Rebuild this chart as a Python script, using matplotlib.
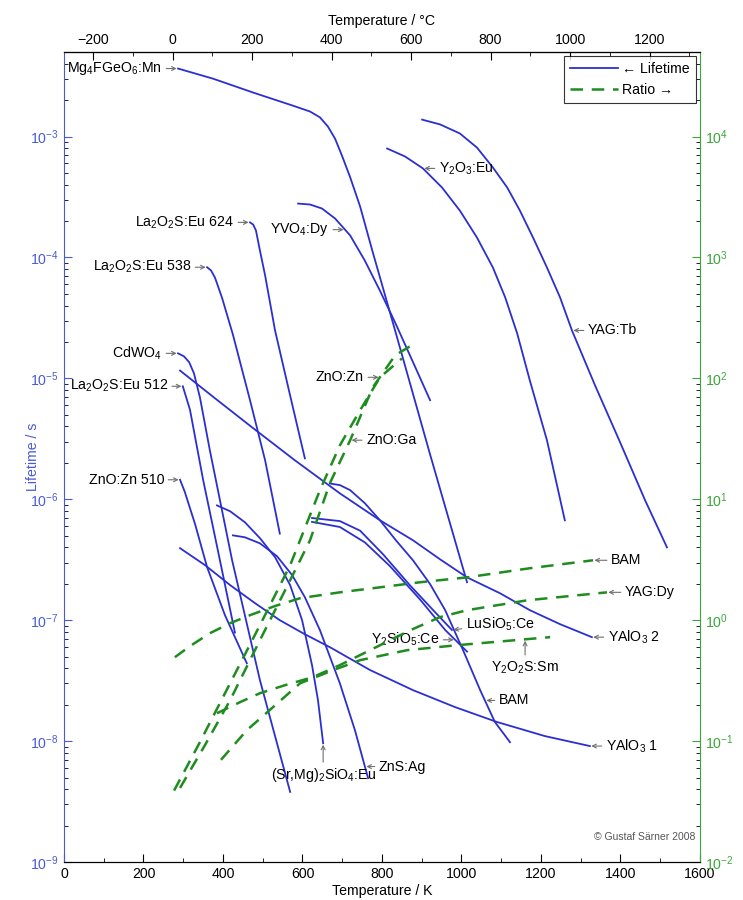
import numpy as np
import matplotlib.pyplot as plt
from matplotlib import font_manager
from matplotlib.lines import Line2D
from matplotlib.ticker import LogLocator, MultipleLocator, NullFormatter, FixedLocator

# condensed sans if available
names = {f.name for f in font_manager.fontManager.ttflist}
base_font = 'Liberation Sans Narrow' if 'Liberation Sans Narrow' in names else 'Liberation Sans'
plt.rcParams['font.family'] = [base_font, 'DejaVu Sans']
plt.rcParams['mathtext.fontset'] = 'custom'
plt.rcParams['mathtext.rm'] = base_font
plt.rcParams['mathtext.it'] = base_font

BLUE = '#2b2fd0'
AXBLUE = '#4a5ad6'
GREEN = '#1e8c1e'
AXGREEN = '#3aa63a'
FS = 10.2

# ---- decay lifetime (s) vs temperature (K) ----
mg_T = [287, 375, 476, 576, 619, 644, 664, 682, 699, 720, 745, 775, 833, 921, 1014]
mg_tau = [3.65e-3, 3.01e-3, 2.31e-3, 1.80e-3, 1.61e-3, 1.44e-3, 1.21e-3, 9.6e-4, 7.0e-4,
          4.6e-4, 2.64e-4, 1.16e-4, 2.49e-5, 2.35e-6, 2.06e-7]

yvo_T = [589, 619, 649, 682, 720, 757, 795, 833, 876, 921]
yvo_tau = [2.79e-4, 2.74e-4, 2.54e-4, 2.10e-4, 1.52e-4, 9.4e-5, 5.3e-5, 2.9e-5, 1.41e-5, 6.6e-6]

y2o3_T = [813, 858, 903, 951, 996, 1039, 1079, 1110, 1140, 1172, 1215, 1260]
y2o3_tau = [7.96e-4, 6.84e-4, 5.45e-4, 3.79e-4, 2.44e-4, 1.46e-4, 8.26e-5, 4.67e-5,
            2.36e-5, 9.6e-6, 3.08e-6, 6.7e-7]

yagtb_T = [901, 946, 996, 1039, 1079, 1115, 1147, 1180, 1215, 1248, 1278, 1336, 1399, 1462, 1517]
yagtb_tau = [1.38e-3, 1.26e-3, 1.06e-3, 8.1e-4, 5.55e-4, 3.79e-4, 2.44e-4, 1.46e-4, 8.26e-5,
             4.67e-5, 2.49e-5, 8.75e-6, 2.96e-6, 9.8e-7, 4.0e-7]

la624_T = [468, 476, 483, 493, 506, 531, 569, 606]
la624_tau = [1.95e-4, 1.87e-4, 1.67e-4, 1.14e-4, 7.1e-5, 2.49e-5, 7.2e-6, 2.18e-6]

la538_T = [360, 370, 380, 398, 425, 468, 506, 543]
la538_tau = [8.3e-5, 7.8e-5, 6.8e-5, 4.6e-5, 2.3e-5, 6.6e-6, 2.1e-6, 5.2e-7]

la512_T = [299, 317, 350, 387, 430]
la512_tau = [8.6e-6, 5.5e-6, 1.45e-6, 3.8e-7, 7.9e-8]

cdwo_T = [287, 302, 315, 327, 342, 367, 423, 493, 569]
cdwo_tau = [1.61e-5, 1.52e-5, 1.36e-5, 1.10e-5, 6.97e-6, 2.54e-6, 3.13e-7, 3.19e-8, 3.8e-9]

zno510_T = [292, 304, 330, 360, 405, 460]
zno510_tau = [1.45e-6, 1.15e-6, 6.2e-7, 2.75e-7, 1.1e-7, 4.4e-8]

srmg_T = [385, 418, 455, 493, 531, 569, 599, 624, 639, 652]
srmg_tau = [8.9e-7, 7.96e-7, 6.46e-7, 4.77e-7, 3.32e-7, 1.95e-7, 1.0e-7, 4.25e-8, 2.18e-8, 9.6e-9]

zns_T = [425, 455, 493, 536, 574, 606, 644, 694, 732, 765]
zns_tau = [5.03e-7, 4.85e-7, 4.32e-7, 3.38e-7, 2.36e-7, 1.55e-7, 8.26e-8, 3.01e-8, 1.23e-8, 4.94e-9]

yalo1_T = [292, 355, 418, 481, 543, 606, 669, 770, 878, 984, 1089, 1210, 1323]
yalo1_tau = [3.94e-7, 2.85e-7, 1.95e-7, 1.38e-7, 1.0e-7, 7.65e-8, 5.98e-8, 3.87e-8,
             2.64e-8, 1.91e-8, 1.44e-8, 1.10e-8, 9.1e-9]

yalo2_T = [292, 380, 473, 581, 694, 795, 878, 946, 1014, 1097, 1172, 1248, 1328]
yalo2_tau = [1.16e-5, 6.84e-6, 3.94e-6, 2.10e-6, 1.12e-6, 6.7e-7, 4.58e-7, 3.19e-7,
             2.26e-7, 1.67e-7, 1.21e-7, 9.27e-8, 7.24e-8]

bam_T = [669, 694, 720, 757, 795, 835, 878, 921, 959, 1004, 1047, 1084, 1122]
bam_tau = [1.35e-6, 1.31e-6, 1.19e-6, 9.27e-7, 6.7e-7, 4.58e-7, 3.13e-7, 1.99e-7,
           1.21e-7, 5.65e-8, 2.64e-8, 1.44e-8, 9.8e-9]

lso_T = [624, 694, 745, 803, 870, 933, 976]
lso_tau = [7.0e-7, 6.6e-7, 5.5e-7, 3.5e-7, 1.95e-7, 1.17e-7, 8.3e-8]

yso_T = [624, 694, 757, 820, 896, 959, 1014]
yso_tau = [6.5e-7, 5.9e-7, 4.4e-7, 2.8e-7, 1.48e-7, 8.3e-8, 5.5e-8]

# ---- intensity ratio vs temperature (K) ----
bamr_T = [279, 317, 367, 418, 468, 531, 594, 694, 795, 896, 1014, 1172, 1331]
bamr = [0.494, 0.61, 0.78, 0.944, 1.10, 1.31, 1.52, 1.70, 1.87, 2.06, 2.26, 2.69, 3.13]

yagdy_T = [385, 443, 493, 556, 626, 694, 770, 871, 946, 1014, 1165, 1366]
yagdy = [0.170, 0.210, 0.249, 0.290, 0.338, 0.425, 0.565, 0.826, 1.06, 1.21, 1.46, 1.70]

y2o2s_T = [395, 460, 526, 594, 677, 745, 863, 989, 1223]
y2o2s = [0.070, 0.123, 0.191, 0.301, 0.386, 0.467, 0.565, 0.621, 0.724]

znozn_T = [277, 342, 418, 493, 569, 644, 694, 745, 795, 850]
znozn = [0.039, 0.098, 0.301, 0.91, 2.85, 11.9, 27.9, 54.5, 102, 146]

znoga_T = [292, 355, 418, 493, 569, 619, 669, 720, 777, 833, 883]
znoga = [0.041, 0.093, 0.218, 0.684, 2.14, 4.58, 13.6, 30.8, 84.3, 155, 195]


def at(T, v, t):
    """value on a curve at temperature t (log interpolation)"""
    return 10 ** np.interp(t, T, np.log10(v))


fig = plt.figure(figsize=(7.43, 9.0), dpi=100)
ax = fig.add_axes([0.0861, 0.0422, 0.856, 0.9])
ax2 = ax.twinx()

lifetimes = [(mg_T, mg_tau), (yvo_T, yvo_tau), (y2o3_T, y2o3_tau), (yagtb_T, yagtb_tau),
             (la624_T, la624_tau), (la538_T, la538_tau), (la512_T, la512_tau),
             (cdwo_T, cdwo_tau), (zno510_T, zno510_tau), (srmg_T, srmg_tau),
             (zns_T, zns_tau), (yalo1_T, yalo1_tau), (yalo2_T, yalo2_tau),
             (bam_T, bam_tau), (lso_T, lso_tau), (yso_T, yso_tau)]
for T, tau in lifetimes:
    ax.plot(T, tau, color=BLUE, lw=1.3, solid_joinstyle='round')

ratios = [(bamr_T, bamr), (yagdy_T, yagdy), (y2o2s_T, y2o2s),
          (znozn_T, znozn), (znoga_T, znoga)]
for T, r in ratios:
    ax2.plot(T, r, color=GREEN, lw=1.8, dashes=(5, 3.5))

ax.set_yscale('log')
ax2.set_yscale('log')
ax.set_xlim(0, 1600)
ax.set_ylim(1e-9, 5e-3)
ax2.set_ylim(1e-2, 5e4)

# axes styling
for a in (ax, ax2):
    a.tick_params(which='both', direction='in', labelsize=FS)
    a.tick_params(which='major', length=6)
    a.tick_params(which='minor', length=3)
ax.xaxis.set_major_locator(MultipleLocator(200))
ax.xaxis.set_minor_locator(MultipleLocator(100))
ax.yaxis.set_major_locator(LogLocator(base=10, numticks=20))
ax.yaxis.set_minor_locator(LogLocator(base=10, subs=np.arange(2, 10), numticks=20))
ax.yaxis.set_minor_formatter(NullFormatter())
ax2.yaxis.set_major_locator(LogLocator(base=10, numticks=20))
ax2.yaxis.set_minor_locator(LogLocator(base=10, subs=np.arange(2, 10), numticks=20))
ax2.yaxis.set_minor_formatter(NullFormatter())

ax.spines['left'].set_color(AXBLUE)
ax.tick_params(axis='y', colors=AXBLUE)
ax2.spines['right'].set_color(AXGREEN)
ax2.spines['left'].set_visible(False)
ax2.tick_params(axis='y', colors=AXGREEN)
ax.spines['right'].set_visible(False)

ax.set_xlabel('Temperature / K', fontsize=FS, labelpad=2)
ax.set_ylabel('Lifetime / s', color=AXBLUE, fontsize=FS)
ax.yaxis.set_label_coords(-0.038, 0.5)
ax2.set_ylabel('Ratio', color=AXGREEN, fontsize=FS)
ax2.yaxis.set_label_coords(1.068, 0.5)

top = ax.secondary_xaxis('top', functions=(lambda k: k - 273.15, lambda c: c + 273.15))
top.xaxis.set_major_locator(FixedLocator(np.arange(-200, 1201, 200)))
top.xaxis.set_minor_locator(FixedLocator(np.arange(-200, 1301, 100)))
top.tick_params(which='both', direction='in', labelsize=FS)
top.tick_params(which='major', length=6)
top.tick_params(which='minor', length=3)
top.set_xlabel('Temperature / °C', fontsize=FS, labelpad=6)

# curve labels
arr = dict(arrowstyle='->', color='#707070', lw=0.8, shrinkA=1, shrinkB=1,
           mutation_scale=7)


def label(a, text, xy, dx, dy=0, ha=None):
    if ha is None:
        ha = 'right' if dx < 0 else ('left' if dx > 0 else 'center')
    a.annotate(text, xy=xy, xytext=(dx, dy), textcoords='offset pixels',
               ha=ha, va='center', fontsize=FS, arrowprops=arr)


label(ax, 'Mg$_4$FGeO$_6$:Mn', (mg_T[0], mg_tau[0]), -16)
label(ax, 'La$_2$O$_2$S:Eu 624', (la624_T[0], la624_tau[0]), -16)
label(ax, 'YVO$_4$:Dy', (707, at(yvo_T, yvo_tau, 707)), -16)
label(ax, 'Y$_2$O$_3$:Eu', (903, at(y2o3_T, y2o3_tau, 903)), 16)
label(ax, 'La$_2$O$_2$S:Eu 538', (la538_T[0], la538_tau[0]), -16)
label(ax, 'CdWO$_4$', (cdwo_T[0], cdwo_tau[0]), -16)
label(ax, 'La$_2$O$_2$S:Eu 512', (la512_T[0], la512_tau[0]), -15)
label(ax, 'ZnO:Zn 510', (zno510_T[0], zno510_tau[0]), -16)
label(ax, 'YAG:Tb', (1278, at(yagtb_T, yagtb_tau, 1278)), 16)
label(ax, 'YAlO$_3$ 2', (yalo2_T[-1], yalo2_tau[-1]), 16)
label(ax, 'YAlO$_3$ 1', (yalo1_T[-1], yalo1_tau[-1]), 16)
label(ax, 'LuSiO$_5$:Ce', (lso_T[-1], lso_tau[-1]), 14, 6)
label(ax, 'Y$_2$SiO$_5$:Ce', (984, at(yso_T, yso_tau, 984)), -16)
label(ax, 'BAM', (1059, at(bam_T, bam_tau, 1059)), 14)
label(ax, 'ZnS:Ag', (757, at(zns_T, zns_tau, 757)), 14)
label(ax, '(Sr,Mg)$_2$SiO$_4$:Eu', (srmg_T[-1], srmg_tau[-1]), 0, -32)

label(ax2, 'ZnO:Zn', (795, at(znozn_T, znozn, 795)), -16)
label(ax2, 'ZnO:Ga', (720, at(znoga_T, znoga, 720)), 16)
label(ax2, 'BAM', (bamr_T[-1], bamr[-1]), 18)
label(ax2, 'YAG:Dy', (yagdy_T[-1], yagdy[-1]), 18)
label(ax2, 'Y$_2$O$_2$S:Sm', (1160, at(y2o2s_T, y2o2s, 1160)), 0, -28)

ax.text(0.992, 0.031, '© Gustaf Särner 2008', transform=ax.transAxes,
        ha='right', va='center', fontsize=7.5, color='#555555')

handles = [Line2D([], [], color=BLUE, lw=1.3),
           Line2D([], [], color=GREEN, lw=1.8, dashes=(5, 3.5))]
leg = ax2.legend(handles, ['← Lifetime', 'Ratio →'], loc='upper right',
                 fontsize=FS, fancybox=False, edgecolor='black',
                 borderaxespad=0.3, handlelength=3.4, handletextpad=0.3)
leg.get_frame().set_linewidth(0.8)

fig.savefig('out.png', dpi=100)
